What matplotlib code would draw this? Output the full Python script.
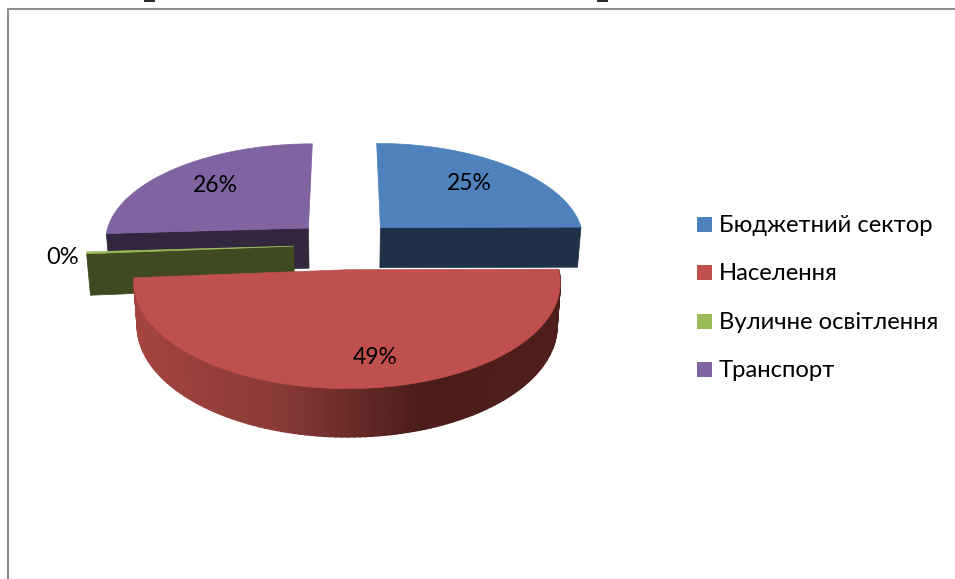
import matplotlib
matplotlib.use('Agg')
import matplotlib.pyplot as plt
import numpy as np
from matplotlib.colors import LinearSegmentedColormap

labels = ['Бюджетний сектор', 'Населення', 'Вуличне освітлення', 'Транспорт']
values = [25.0, 49.0, 0.3, 26.0]
top_colors = ['#4F81BD', '#C0504D', '#9BBB59', '#8064A2']
side_colors = ['#1F3049', '#C0504D', '#404A20', '#33263F']

# fake 3D pie settings, all in pixels of the 955x579 picture
CX, CY = 345, 244.5
RX, RY = 205, 98
PERSP = 0.12
EXPLODE = 0.25
DEPTH = 41

plt.rcParams['font.family'] = ['Lato', 'Open Sans', 'DejaVu Sans']


def project(gx, gy, drop=0.0):
    w = 1 + PERSP * gy
    shrink = 1 - 0.015 * drop / DEPTH
    return CX + RX * gx / w * shrink, CY + (drop - RY * gy) / w


def slice_outline(start, end, n=120):
    a = np.radians(np.linspace(start, end, n))
    mid = np.radians((start + end) / 2)
    ox, oy = EXPLODE * np.sin(mid), EXPLODE * np.cos(mid)
    return ox, oy, ox + np.sin(a), oy + np.cos(a)


fig = plt.figure(figsize=(9.55, 5.79), dpi=100)
ax = fig.add_axes([0, 0, 1, 1])
ax.set_xlim(0, 955)
ax.set_ylim(579, 0)
ax.axis('off')

# chart frame
ax.plot([955, 7.5, 7.5], [8.5, 8.5, 579], color='#8E8E8E', lw=1.5)

# bits of the caption above the chart that the crop left over
for x in [145, 598]:
    ax.plot([x, x + 9], [1, 1], color='#222222', lw=1.4)

edges = np.concatenate([[0], np.cumsum(values)]) / sum(values) * 360
side_cmap = LinearSegmentedColormap.from_list(
    'side', ['#A5443F', '#8A3A37', '#4B1D1B', '#4E1E1C'], N=256)

# back slices first, the big front one last
for i in [0, 3, 2, 1]:
    start, end = edges[i], edges[i + 1]
    ox, oy, gx, gy = slice_outline(start, end)
    if i == 1:
        # curved front wall with a left to right shade
        for j in range(len(gx) - 1):
            x0, y0 = project(gx[j], gy[j])
            x1, y1 = project(gx[j + 1], gy[j + 1])
            x2, y2 = project(gx[j + 1], gy[j + 1], DEPTH)
            x3, y3 = project(gx[j], gy[j], DEPTH)
            t = np.clip((135 - (x0 + x1) / 2) / (135 - 560), 0, 1)
            ax.fill([x0, x1, x2, x3], [y0, y1, y2, y3],
                    color=side_cmap(t), lw=1.2)
    else:
        # cut face: right radius for the first slice, left radius for the others
        k = -1 if i == 0 else 0
        a = project(ox, oy)
        b = project(gx[k], gy[k])
        c = project(gx[k], gy[k], DEPTH)
        d = project(ox, oy, DEPTH)
        ax.fill([a[0], b[0], c[0], d[0]], [a[1], b[1], c[1], d[1]],
                color=side_colors[i], lw=0.5)
    tx, ty = project(np.concatenate([[ox], gx]), np.concatenate([[oy], gy]))
    ax.fill(tx, ty, color=top_colors[i], lw=0.5)

# data labels
pct = [f'{v / sum(values) * 100:.0f}%' for v in values]
label_xy = [(469, 184), (375, 357), (63, 258), (215, 186)]
for s, (x, y), size in zip(pct, label_xy, [16.5, 16.5, 17, 16.5]):
    ax.text(x, y, s, fontsize=size, ha='center', va='center', color='black')

# legend
legend_y = [232, 280, 329, 377]
for name, color, y in zip(labels, top_colors, legend_y):
    ax.fill([697, 712, 712, 697], [y - 15, y - 15, y, y], color=color, lw=0)
    ax.text(719, y, name, fontsize=17.2, ha='left', va='baseline', color='black')

fig.savefig('out.png', dpi=100)
